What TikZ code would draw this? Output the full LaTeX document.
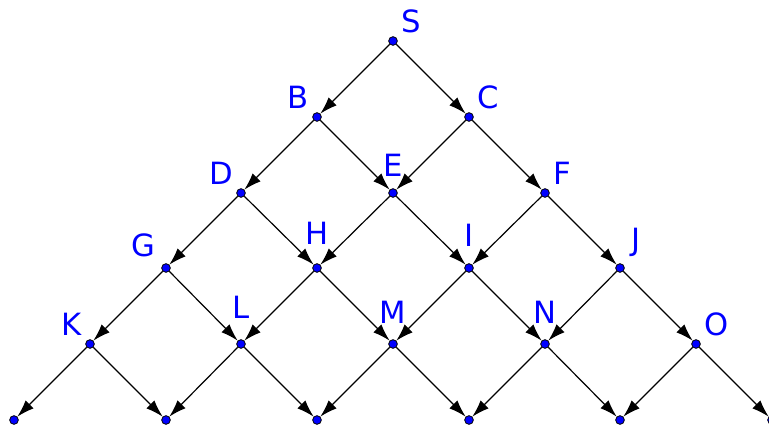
\documentclass[tikz,border=0pt]{standalone}
\usepackage{fontspec}
\setmainfont{DejaVu Sans}
\usetikzlibrary{arrows.meta}

\begin{document}
\begin{tikzpicture}[x=0.75pt, y=-0.75pt, >={Latex[length=13pt, width=8.5pt]},
        dot/.style={circle, draw=black, fill=blue, line width=0.6pt, inner sep=0pt, minimum size=6.5pt},
        lbl/.style={text=blue, font=\fontsize{23}{23}\selectfont, inner sep=0pt},
        sidelbl/.style={lbl, label distance=5pt},
        toplbl/.style={lbl, label distance=12pt},
        arrow/.style={->, line width=0.9pt}]

        \useasboundingbox (0,0) rectangle (769,428);

        % top of the lattice
        \node[dot, label={[sidelbl]above right:S}] (S) at (393,41) {};
        \node[dot, label={[sidelbl]above left:B}] (B) at (317,117) {};
        \node[dot, label={[sidelbl]above right:C}] (C) at (469,117) {};
        \node[dot, label={[sidelbl]above left:D}] (D) at (241,193) {};
        \node[dot, label={[toplbl, label distance=9pt]above:E}] (E) at (393,193) {};
        \node[dot, label={[sidelbl]above right:F}] (F) at (545,193) {};
        \node[dot, label={[sidelbl, label distance=8pt]above left:G}] (G) at (166,268) {};
        \node[dot, label={[toplbl, label distance=14pt]above:H}] (H) at (317,268) {};
        \node[dot, label={[toplbl]above:I}] (I) at (469,268) {};
        \node[dot, label={[sidelbl, label distance=8pt]above right:J}] (J) at (620,268) {};
        \node[dot, label={[sidelbl]above left:K}] (K) at (90,344) {};
        \node[dot, label={[toplbl, label distance=15pt]above:L}] (L) at (241,344) {};
        \node[dot, label={[toplbl]above:M}] (M) at (393,344) {};
        \node[dot, label={[toplbl]above:N}] (N) at (545,344) {};
        \node[dot, label={[sidelbl]above right:O}] (O) at (696,344) {};

        % bottom row, no labels
        \node[dot] (bot1) at (14,420) {};
        \node[dot] (bot2) at (166,420) {};
        \node[dot] (bot3) at (317,420) {};
        \node[dot] (bot4) at (469,420) {};
        \node[dot] (bot5) at (620,420) {};
        \node[dot] (bot6) at (772,420) {};

        \draw[arrow] (S) -- (B);
        \draw[arrow] (S) -- (C);
        \draw[arrow] (B) -- (D);
        \draw[arrow] (B) -- (E);
        \draw[arrow] (C) -- (E);
        \draw[arrow] (C) -- (F);
        \draw[arrow] (D) -- (G);
        \draw[arrow] (D) -- (H);
        \draw[arrow] (E) -- (H);
        \draw[arrow] (E) -- (I);
        \draw[arrow] (F) -- (I);
        \draw[arrow] (F) -- (J);
        \draw[arrow] (G) -- (K);
        \draw[arrow] (G) -- (L);
        \draw[arrow] (H) -- (L);
        \draw[arrow] (H) -- (M);
        \draw[arrow] (I) -- (M);
        \draw[arrow] (I) -- (N);
        \draw[arrow] (J) -- (N);
        \draw[arrow] (J) -- (O);
        \draw[arrow] (K) -- (bot1);
        \draw[arrow] (K) -- (bot2);
        \draw[arrow] (L) -- (bot2);
        \draw[arrow] (L) -- (bot3);
        \draw[arrow] (M) -- (bot3);
        \draw[arrow] (M) -- (bot4);
        \draw[arrow] (N) -- (bot4);
        \draw[arrow] (N) -- (bot5);
        \draw[arrow] (O) -- (bot5);
        \draw[arrow] (O) -- (bot6);
\end{tikzpicture}
\end{document}
